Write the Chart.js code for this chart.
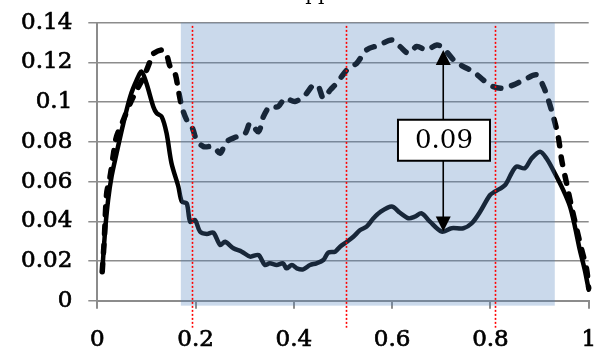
<!DOCTYPE html>
<html>
<head>
<meta charset="utf-8">
<script src="https://cdn.jsdelivr.net/npm/chart.js@4/dist/chart.umd.min.js"></script>
<style>
html,body{margin:0;padding:0;background:#fff;}
#wrap{width:602px;height:347px;position:relative;}
</style>
</head>
<body>
<div id="wrap"><canvas id="c" width="602" height="347"></canvas></div>
<script>
// ---- data ----
const xTickValues = [0, 0.2, 0.4, 0.6, 0.8, 1];
const xTickLabels = ['0', '0.2', '0.4', '0.6', '0.8', '1'];
const yTickValues = [0, 0.02, 0.04, 0.06, 0.08, 0.1, 0.12, 0.14];
const yTickLabels = ['0', '0.02', '0.04', '0.06', '0.08', '0.1', '0.12', '0.14'];

const solidX = [
  0.010, 0.016, 0.022, 0.029, 0.039, 0.053, 0.067, 0.080, 0.090, 0.100,
  0.114, 0.121, 0.131, 0.141, 0.151, 0.165, 0.172, 0.182, 0.189, 0.199,
  0.209, 0.223, 0.236, 0.250, 0.260, 0.277, 0.294, 0.311, 0.328, 0.341,
  0.351, 0.365, 0.378, 0.385, 0.396, 0.406, 0.419, 0.433, 0.446, 0.460,
  0.470, 0.484, 0.494, 0.508, 0.521, 0.535, 0.548, 0.562, 0.575, 0.599,
  0.616, 0.633, 0.646, 0.660, 0.677, 0.701, 0.721, 0.745, 0.762, 0.779,
  0.799, 0.809, 0.830, 0.843, 0.853, 0.870, 0.884, 0.901, 0.914, 0.931,
  0.948, 0.962, 0.972, 0.982, 0.992, 1.000
];
const solidY = [
  0.0146, 0.0356, 0.0507, 0.0625, 0.0740, 0.0893, 0.1028, 0.1110, 0.1154, 0.1095,
  0.0977, 0.0944, 0.0927, 0.0843, 0.0692, 0.0574, 0.0499, 0.0490, 0.0398, 0.0406,
  0.0348, 0.0336, 0.0343, 0.0281, 0.0297, 0.0264, 0.0247, 0.0222, 0.0230, 0.0180,
  0.0188, 0.0180, 0.0188, 0.0163, 0.0180, 0.0163, 0.0158, 0.0180, 0.0188, 0.0205,
  0.0242, 0.0247, 0.0272, 0.0297, 0.0322, 0.0356, 0.0373, 0.0415, 0.0445, 0.0474,
  0.0443, 0.0415, 0.0423, 0.0440, 0.0398, 0.0348, 0.0365, 0.0365, 0.0390, 0.0448,
  0.0532, 0.0549, 0.0583, 0.0642, 0.0675, 0.0667, 0.0717, 0.0750, 0.0717, 0.0642,
  0.0558, 0.0474, 0.0373, 0.0255, 0.0155, 0.0055
];

const dashX = [
  0.010, 0.014, 0.019, 0.026, 0.033, 0.039, 0.053, 0.067, 0.080, 0.095,
  0.107, 0.111, 0.131, 0.141, 0.148, 0.158, 0.165, 0.172, 0.182, 0.189,
  0.195, 0.202, 0.216, 0.236, 0.250, 0.263, 0.284, 0.301, 0.311, 0.328,
  0.338, 0.351, 0.368, 0.382, 0.402, 0.423, 0.440, 0.450, 0.460, 0.474,
  0.487, 0.497, 0.511, 0.528, 0.548, 0.575, 0.599, 0.616, 0.633, 0.650,
  0.670, 0.691, 0.704, 0.725, 0.745, 0.765, 0.786, 0.806, 0.826, 0.847,
  0.867, 0.894, 0.908, 0.918, 0.928, 0.938, 0.945, 0.955, 0.965, 0.976,
  0.986, 0.996, 1.000
];
const dashY = [
  0.0146, 0.0300, 0.0540, 0.0625, 0.0742, 0.0826, 0.0910, 0.0994, 0.1060, 0.1130,
  0.1204, 0.1238, 0.1263, 0.1238, 0.1180, 0.1146, 0.1060, 0.0977, 0.0910, 0.0894,
  0.0860, 0.0810, 0.0776, 0.0776, 0.0743, 0.0801, 0.0826, 0.0843, 0.0894, 0.0851,
  0.0927, 0.0977, 0.0977, 0.1020, 0.1003, 0.1036, 0.1087, 0.1078, 0.1020, 0.1061,
  0.1095, 0.1128, 0.1170, 0.1196, 0.1263, 0.1288, 0.1313, 0.1280, 0.1246, 0.1280,
  0.1263, 0.1288, 0.1272, 0.1213, 0.1179, 0.1154, 0.1110, 0.1078, 0.1070, 0.1087,
  0.1110, 0.1137, 0.1078, 0.1010, 0.0927, 0.0826, 0.0709, 0.0591, 0.0474, 0.0356,
  0.0255, 0.0155, 0.0064
];

// shaded region and markers (data units)
const shadeRange = [0.170, 0.931];
const shadeYRange = [-0.0025, 0.14];
const redLinesX = [0.192, 0.507, 0.809];
const redLinesYRange = [-0.0136, 0.1384];
const arrowX = 0.704;
const arrowYRange = [0.0348, 0.1263];
const boxLabel = '0.09';
const boxCenter = [0.7055, 0.0808];
const titleText = 'the overlapped area';

// ---- chart ----
const solidPts = solidX.map((x, i) => ({x: x, y: solidY[i]}));
const dashPts = dashX.map((x, i) => ({x: x, y: dashY[i]}));

const FONT = "'DejaVu Serif', serif";
const GRID = '#8c8c8c';
const AREA = {left: 97.3, top: 22.7, right: 588.7, bottom: 300.7};

const areaPlugin = {
  id: 'fixArea',
  afterLayout(chart) {
    const ca = chart.chartArea;
    ca.left = AREA.left; ca.top = AREA.top; ca.right = AREA.right; ca.bottom = AREA.bottom;
    ca.width = AREA.right - AREA.left; ca.height = AREA.bottom - AREA.top;
    const x = chart.scales.x, y = chart.scales.y;
    x.left = AREA.left; x.right = AREA.right; x.width = AREA.right - AREA.left;
    x.top = AREA.bottom; x.bottom = chart.height; x.height = chart.height - AREA.bottom;
    y.left = 0; y.right = AREA.left; y.width = AREA.left;
    y.top = AREA.top; y.bottom = AREA.bottom; y.height = AREA.bottom - AREA.top;
    x.configure(); y.configure();
  }
};

const overlayPlugin = {
  id: 'overlay',
  afterDatasetsDraw(chart) {
    const ctx = chart.ctx;
    const xs = chart.scales.x, ys = chart.scales.y;
    ctx.save();
    // shaded band (translucent over lines)
    const l = xs.getPixelForValue(shadeRange[0]);
    const r = xs.getPixelForValue(shadeRange[1]);
    const t = ys.getPixelForValue(shadeYRange[1]);
    const b = ys.getPixelForValue(shadeYRange[0]);
    ctx.fillStyle = 'rgba(79,129,189,0.3)';
    ctx.fillRect(l, t, r - l, b - t);
    // red dotted lines
    ctx.strokeStyle = '#ff0000';
    ctx.lineWidth = 1.6;
    ctx.setLineDash([2, 2]);
    redLinesX.forEach(v => {
      const px = Math.round(xs.getPixelForValue(v)) + 0.5;
      ctx.beginPath();
      ctx.moveTo(px, ys.getPixelForValue(redLinesYRange[1]));
      ctx.lineTo(px, ys.getPixelForValue(redLinesYRange[0]));
      ctx.stroke();
    });
    ctx.setLineDash([]);
    // double arrow
    const ax = xs.getPixelForValue(arrowX);
    const aTop = ys.getPixelForValue(arrowYRange[1]);
    const aBot = ys.getPixelForValue(arrowYRange[0]);
    const ah = 15, aw = 7.5;
    ctx.strokeStyle = '#000';
    ctx.fillStyle = '#000';
    ctx.lineWidth = 1.6;
    ctx.beginPath();
    ctx.moveTo(ax, aTop + ah - 1);
    ctx.lineTo(ax, aBot - ah + 1);
    ctx.stroke();
    ctx.beginPath();
    ctx.moveTo(ax, aTop); ctx.lineTo(ax - aw, aTop + ah); ctx.lineTo(ax + aw, aTop + ah); ctx.closePath();
    ctx.fill();
    ctx.beginPath();
    ctx.moveTo(ax, aBot); ctx.lineTo(ax - aw, aBot - ah); ctx.lineTo(ax + aw, aBot - ah); ctx.closePath();
    ctx.fill();
    // label box
    const bx = xs.getPixelForValue(boxCenter[0]);
    const by = ys.getPixelForValue(boxCenter[1]);
    const bw = 92, bh = 41;
    ctx.fillStyle = '#fff';
    ctx.fillRect(bx - bw / 2, by - bh / 2, bw, bh);
    ctx.lineWidth = 2;
    ctx.strokeRect(bx - bw / 2, by - bh / 2, bw, bh);
    ctx.fillStyle = '#000';
    ctx.font = "26px " + FONT;
    ctx.textAlign = 'center';
    ctx.textBaseline = 'middle';
    ctx.fillText(boxLabel, bx, by + 1);
    // clipped title at top
    ctx.font = "20px " + FONT;
    ctx.textAlign = 'left';
    ctx.textBaseline = 'alphabetic';
    ctx.fillText(titleText, 203, 0);
    ctx.restore();
  }
};

new Chart(document.getElementById('c'), {
  type: 'line',
  data: {
    datasets: [
      {
        data: dashPts,
        borderColor: '#000',
        borderWidth: 5.5,
        borderDash: [8, 11],
        borderCapStyle: 'round',
        borderJoinStyle: 'round',
        pointRadius: 0,
        tension: 0.3,
        fill: false
      },
      {
        data: solidPts,
        borderColor: '#000',
        borderWidth: 4.5,
        borderCapStyle: 'round',
        borderJoinStyle: 'round',
        pointRadius: 0,
        tension: 0.3,
        fill: false
      }
    ]
  },
  options: {
    responsive: false,
    animation: false,
    devicePixelRatio: 1,
    clip: false,
    layout: {padding: {top: 17, right: 8, left: 0, bottom: 0}},
    plugins: {legend: {display: false}, tooltip: {enabled: false}, title: {display: false}},
    scales: {
      x: {
        type: 'linear',
        min: 0, max: 1,
        afterBuildTicks: s => { s.ticks = xTickValues.map(v => ({value: v})); },
        afterFit: s => { s.height = 46; },
        ticks: {
          autoSkip: false, maxRotation: 0,
          padding: 18,
          color: '#000',
          textStrokeColor: '#000',
          textStrokeWidth: 0.7,
          font: {family: FONT, size: 23},
          callback: (v) => xTickLabels[Math.round(v / 0.2)]
        },
        grid: {drawOnChartArea: false, drawTicks: true, tickLength: 8, color: GRID, lineWidth: 2},
        border: {display: true, color: GRID, width: 2}
      },
      y: {
        min: 0, max: 0.14,
        afterBuildTicks: s => { s.ticks = yTickValues.map(v => ({value: v})); },
        afterFit: s => { s.width = 97; },
        ticks: {
          autoSkip: false,
          padding: 16,
          color: '#000',
          textStrokeColor: '#000',
          textStrokeWidth: 0.7,
          font: {family: FONT, size: 23},
          callback: (v) => yTickLabels[Math.round(v / 0.02)]
        },
        grid: {drawOnChartArea: true, drawTicks: true, tickLength: 9, color: GRID, lineWidth: 1.5},
        border: {display: true, color: GRID, width: 2}
      }
    }
  },
  plugins: [areaPlugin, overlayPlugin]
});
</script>
</body>
</html>
